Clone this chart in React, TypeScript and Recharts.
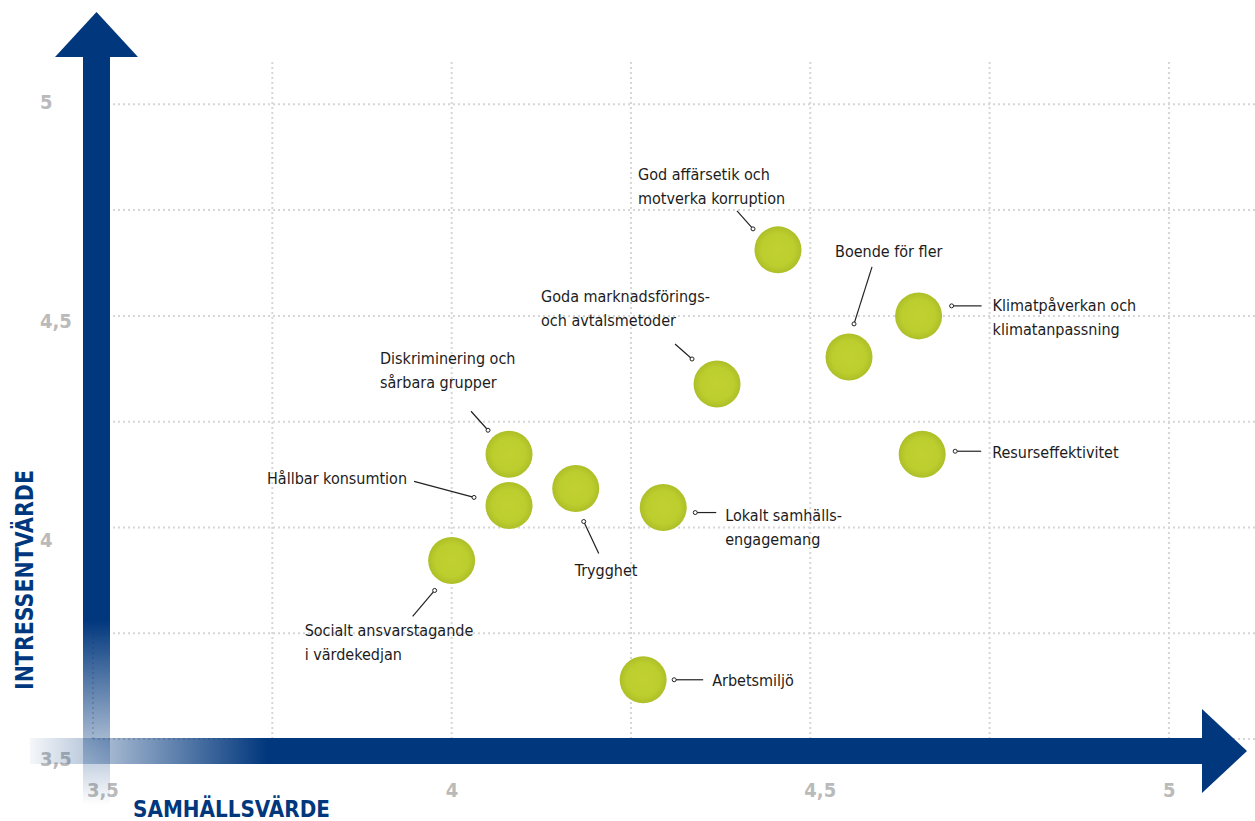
import { ScatterChart, Scatter, XAxis, YAxis, CartesianGrid } from "recharts";

// hållbarhetsfrågor: samhällsvärde (x) mot intressentvärde (y)
const TOPICS = [
  "God affärsetik och motverka korruption",
  "Boende för fler",
  "Klimatpåverkan och klimatanpassning",
  "Resurseffektivitet",
  "Goda marknadsförings- och avtalsmetoder",
  "Diskriminering och sårbara grupper",
  "Hållbar konsumtion",
  "Trygghet",
  "Lokalt samhällsengagemang",
  "Socialt ansvarstagande i värdekedjan",
  "Arbetsmiljö",
];
const SAMHALLSVARDE = [4.455, 4.554, 4.651, 4.656, 4.37, 4.08, 4.08, 4.173, 4.295, 4.0, 4.267];
const INTRESSENTVARDE = [4.656, 4.403, 4.5, 4.173, 4.339, 4.173, 4.052, 4.092, 4.047, 3.922, 3.64];
const LABEL_LINES = [
  ["God affärsetik och", "motverka korruption"],
  ["Boende för fler"],
  ["Klimatpåverkan och", "klimatanpassning"],
  ["Resurseffektivitet"],
  ["Goda marknadsförings-", "och avtalsmetoder"],
  ["Diskriminering och", "sårbara grupper"],
  ["Hållbar konsumtion"],
  ["Trygghet"],
  ["Lokalt samhälls-", "engagemang"],
  ["Socialt ansvarstagande", "i värdekedjan"],
  ["Arbetsmiljö"],
];

const GRID_TICKS = [3.5, 3.75, 4, 4.25, 4.5, 4.75, 5];
const LABEL_TICKS = [3.5, 4, 4.5, 5];

// callout placement relative to bubble centre (px)
const CALLOUTS = [
  { dot: [-25, -21], end: [-41, -39], text: [-140, -75] },
  { dot: [5, -33], end: [23, -90], text: [-14, -105] },
  { dot: [33, -10], end: [63, -10], text: [74, -10] },
  { dot: [33, -3], end: [59, -3], text: [70, -2] },
  { dot: [-25, -25], end: [-42, -40], text: [-176, -87] },
  { dot: [-21, -24], end: [-38, -43], text: [-129, -96] },
  { dot: [-35, -8], end: [-95, -24], text: [-242, -27] },
  { dot: [8, 33], end: [23, 65], text: [-1, 82] },
  { dot: [32, 5], end: [53, 5], text: [62, 8] },
  { dot: [-17, 30], end: [-39, 56], text: [-147, 70] },
  { dot: [31, 0], end: [60, 0], text: [69, 1] },
];

const data = TOPICS.map((name, i) => ({
  name,
  i,
  x: SAMHALLSVARDE[i],
  y: INTRESSENTVARDE[i],
}));

const BLUE = "#01377d";
const FONT = "'DejaVu Sans Condensed', 'DejaVu Sans', sans-serif";
const fmt = (v: number) => String(v).replace(".", ",");

function Bubble(props: any) {
  const { cx, cy, payload } = props;
  if (cx == null || cy == null) return null;
  const c = CALLOUTS[payload.i];
  const lines = LABEL_LINES[payload.i];
  const tx = cx + c.text[0];
  const ty = cy + c.text[1] + 5.5;
  return (
    <g>
      <circle cx={cx} cy={cy} r={23.5} fill="url(#bubbleFill)" />
      <line
        x1={cx + c.dot[0]}
        y1={cy + c.dot[1]}
        x2={cx + c.end[0]}
        y2={cy + c.end[1]}
        stroke="#222"
        strokeWidth={1.2}
      />
      <circle cx={cx + c.dot[0]} cy={cy + c.dot[1]} r={2} fill="#fff" stroke="#222" strokeWidth={1} />
      <text x={tx} y={ty} fontSize={16} fill="#1c1c1c" fontFamily={FONT} style={{ fontStretch: "condensed" }}>
        {lines.map((l, k) => (
          <tspan key={k} x={tx} dy={k === 0 ? 0 : 24}>
            {l}
          </tspan>
        ))}
      </text>
    </g>
  );
}

// x-axis sits 30px high below the plot; its ticks start at plot bottom
function XTick(props: any) {
  const { x, y, payload } = props;
  const v = payload?.value;
  if (!LABEL_TICKS.includes(v)) return <g />;
  return (
    <text x={x - 6} y={y + 58} fontSize={20} fontWeight="bold" fill="#bababa" fontFamily={FONT}>
      {fmt(v)}
    </text>
  );
}

// y-axis is 30px wide left of the plot; tick x is the plot's left edge
function YTick(props: any) {
  const { x, y, payload } = props;
  const v = payload?.value;
  if (!LABEL_TICKS.includes(v)) return <g />;
  const shift = -3 + (5 - v) * 14.7;
  return (
    <text x={x - 53} y={y + shift + 7.5} fontSize={20} fontWeight="bold" fill="#bababa" fontFamily={FONT}>
      {fmt(v)}
    </text>
  );
}

function Arrows() {
  return (
    <svg
      width={1255}
      height={821}
      style={{ position: "absolute", left: 0, top: 0, pointerEvents: "none" }}
    >
      <defs>
        <radialGradient id="bubbleFill" cx="50%" cy="50%" r="50%">
          <stop offset="0%" stopColor="#c0d130" />
          <stop offset="70%" stopColor="#bccd2e" />
          <stop offset="100%" stopColor="#adbf27" />
        </radialGradient>
        <linearGradient id="vFade" gradientUnits="userSpaceOnUse" x1={0} y1={620} x2={0} y2={805}>
          <stop offset="0%" stopColor={BLUE} stopOpacity={1} />
          <stop offset="100%" stopColor={BLUE} stopOpacity={0} />
        </linearGradient>
        <linearGradient id="hFade" gradientUnits="userSpaceOnUse" x1={20} y1={0} x2={267} y2={0}>
          <stop offset="0%" stopColor={BLUE} stopOpacity={0} />
          <stop offset="100%" stopColor={BLUE} stopOpacity={1} />
        </linearGradient>
      </defs>
      {/* y-pil */}
      <rect x={83} y={56} width={27} height={749} fill="url(#vFade)" />
      <polygon points="55,57 138,57 96.5,12" fill={BLUE} />
      {/* x-pil */}
      <rect x={30} y={738} width={1173} height={26} fill="url(#hFade)" />
      <polygon points="1202,709 1202,793 1247,751" fill={BLUE} />
      <text
        x={33}
        y={580}
        transform="rotate(-90, 33, 580)"
        textAnchor="middle"
        fontSize={24}
        fontWeight="bold"
        fill={BLUE}
        fontFamily={FONT}
        textLength={220}
        lengthAdjust="spacingAndGlyphs"
      >
        INTRESSENTVÄRDE
      </text>
      <text
        x={133}
        y={817}
        fontSize={23}
        fontWeight="bold"
        fill={BLUE}
        fontFamily={FONT}
        textLength={197}
        lengthAdjust="spacingAndGlyphs"
      >
        SAMHÄLLSVÄRDE
      </text>
    </svg>
  );
}

export default function App() {
  return (
    <div
      style={{
        position: "absolute",
        left: 0,
        top: 0,
        width: 1255,
        height: 821,
        background: "#fff",
        fontFamily: FONT,
      }}
    >
      <div style={{ position: "absolute", left: 0, top: 0 }}>
        <ScatterChart width={1255} height={821} margin={{ top: 62, right: 0, bottom: 52, left: 63 }}>
          <CartesianGrid
            stroke="#d6d6d6"
            strokeDasharray="2 3"
            strokeWidth={2}
            horizontalValues={GRID_TICKS}
            verticalValues={GRID_TICKS}
          />
          <XAxis
            type="number"
            dataKey="x"
            domain={[3.5, 5.12]}
            ticks={GRID_TICKS}
            interval={0}
            height={30}
            tickSize={0}
            tickMargin={0}
            axisLine={false}
            tickLine={false}
            tick={XTick}
            allowDataOverflow
          />
          <YAxis
            type="number"
            dataKey="y"
            domain={[3.5, 5.1]}
            ticks={GRID_TICKS}
            interval={0}
            width={30}
            tickSize={0}
            tickMargin={0}
            axisLine={false}
            tickLine={false}
            tick={YTick}
            allowDataOverflow
          />
          <Scatter data={data} shape={<Bubble />} isAnimationActive={false} />
        </ScatterChart>
      </div>
      <Arrows />
    </div>
  );
}
